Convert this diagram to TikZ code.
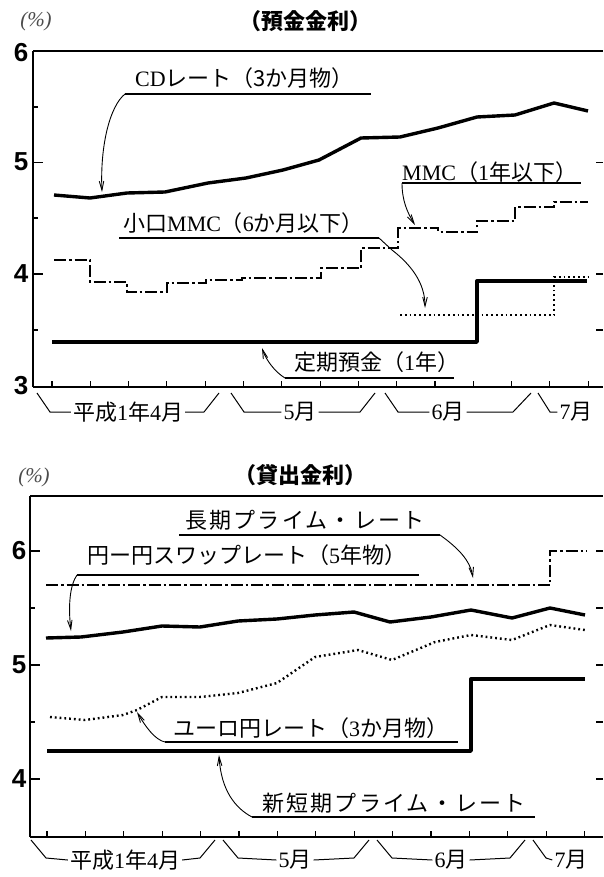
\documentclass[tikz,border=0pt]{standalone}
\usepackage{fontspec}
\setmainfont{Liberation Serif}
\newfontfamily\jp{Noto Sans CJK JP}
\newfontfamily\jpls[LetterSpace=10]{Noto Sans CJK JP}
\newfontfamily\hv{Liberation Sans}
\usetikzlibrary{arrows.meta}
\begin{document}
\begin{tikzpicture}[x=1pt,y=-1pt,
  thickline/.style={line width=3.4pt, line join=round},
  dashdotline/.style={line width=2.6pt, dash pattern=on 12pt off 3pt on 2.5pt off 3pt},
  dotline/.style={line width=2.4pt, dash pattern=on 1.8pt off 3pt},
  leader/.style={line width=0.9pt, -{Straight Barb[length=9pt,width=4.5pt]}},
  uline/.style={line width=1.8pt},
  axisline/.style={line width=1.1pt},
  frameline/.style={line width=2.2pt},
  tickline/.style={line width=1.1pt},
  lbl/.style={font=\jp\fontsize{22}{22}\selectfont, inner sep=0pt, anchor=west},
  lblsp/.style={font=\jpls\fontsize{22}{22}\selectfont, inner sep=0pt, anchor=west},
  ylab/.style={font=\hv\bfseries\fontsize{26}{26}\selectfont, inner sep=0pt},
  mon/.style={font=\jp\fontsize{22}{22}\selectfont, inner sep=2pt},
  ttl/.style={font=\jp\bfseries\fontsize{22}{22}\selectfont, inner sep=0pt},
  pct/.style={font=\rmfamily\itshape\fontsize{21}{21}\selectfont, inner sep=0pt, text=black!70},
  bracket/.style={line width=1pt},
]
\fill[white] (0,0) rectangle (603,877);
\useasboundingbox (0,0) rectangle (603,877);

% ================= TOP CHART =================
\node[pct] (pctA) at (36,21) {(\%)};
\node[ttl] (ttlA) at (305,21) {（預金金利）};
\draw[frameline] (33,51) -- (603,51);
\draw[axisline] (33,51) -- (33,387);
\draw[frameline] (33,387) -- (603,387);
\foreach \yy in {162.5,274} {\draw[tickline] (33,\yy) -- (43,\yy);}
\foreach \yy in {107,218,330} {\draw[tickline] (33,\yy) -- (38,\yy);}
\foreach \yy in {162.5,274,330} {\draw[tickline] (596,\yy) -- (603,\yy);}
\foreach \i in {0,...,14} {\draw[tickline] ({52+38.3*\i},387) -- ({52+38.3*\i},381);}
\node[ylab] (yA6) at (21,53) {6};
\node[ylab] (yA5) at (21,162) {5};
\node[ylab] (yA4) at (21,274) {4};
\node[ylab] (yA3) at (21,386) {3};

% CD rate
\draw[thickline] (54,195) -- (90,198) -- (127,193) -- (165,192) -- (208,183) -- (246,178) -- (283,170) -- (319,160) -- (361,138) -- (400,137) -- (438,128) -- (477,117) -- (515,115) -- (554,103) -- (588,111);
% MMC dash-dot
\draw[dashdotline] (54,260) -- (90,260) -- (90,282) -- (127,282) -- (127,292) -- (167,292) -- (167,283) -- (206,283) -- (206,280) -- (242,280) -- (242,278) -- (321,278) -- (321,268) -- (361,268) -- (361,248) -- (398,248) -- (398,228) -- (438,228) -- (438,232) -- (477,232) -- (477,221) -- (515,221) -- (515,207) -- (554,207) -- (554,202) -- (588,202);
% small MMC dotted
\draw[dotline] (400,315) -- (554,315) -- (554,277) -- (588,277);
% time deposit
\draw[thickline] (52,342) -- (477,342) -- (477,281) -- (587,281);

% labels
\node[lbl] (cdL) at (135,78) {{\rmfamily CD}レート（3か月物）};
\coordinate (cdA) at (125,94);
\draw[uline] (cdA) -- (371,94);
\draw[leader] (cdA) .. controls (110,106) and (100,145) .. (102,192);

\node[lbl] (mmcL) at (402,172) {{\rmfamily MMC}（{\rmfamily 1}年以下）};
\coordinate (mmcA) at (402,183);
\draw[uline] (mmcA) -- (581,183);
\draw[leader] (mmcA) .. controls (402,200) and (407,212) .. (415,225);

\node[lbl] (smmcL) at (123,223) {小口{\rmfamily MMC}（{\rmfamily 6}か月以下）};
\coordinate (smmcA) at (379,238);
\draw[uline] (119,238) -- (smmcA);
\draw[leader] (smmcA) -- (392,250) .. controls (410,264) and (425,282) .. (425,308);

\node[lbl] (tdL) at (294,362) {定期預金（{\rmfamily 1}年）};
\coordinate (tdA) at (285,378);
\draw[uline] (tdA) -- (454,378);
\draw[leader] (tdA) .. controls (275,372) and (266,360) .. (262,348);

% month brackets top
\node[mon] (mA1) at (128,412) {平成{\rmfamily 1}年{\rmfamily 4}月};
\node[mon] (mA2) at (300,412) {{\rmfamily 5}月};
\node[mon] (mA3) at (448,412) {{\rmfamily 6}月};
\node[mon] (mA4) at (576,412) {{\rmfamily 7}月};
\draw[bracket] (37,393) -- (50,412) -- (mA1.west);
\draw[bracket] (mA1.east) -- (204,412) -- (219,393);
\draw[bracket] (231,393) -- (244,412) -- (mA2.west);
\draw[bracket] (mA2.east) -- (360,412) -- (375,393);
\draw[bracket] (385,393) -- (398,412) -- (mA3.west);
\draw[bracket] (mA3.east) -- (513,412) -- (531,393);
\draw[bracket] (538,393) -- (550,412) -- (mA4.west);

% ================= BOTTOM CHART =================
\node[pct] (pctB) at (34,477) {(\%)};
\node[ttl] (ttlB) at (300,475) {（貸出金利）};
\draw[frameline] (30,496) -- (603,496);
\draw[axisline] (30,496) -- (30,837);
\draw[frameline] (30,837) -- (603,837);
\foreach \yy in {551,665,779} {\draw[tickline] (30,\yy) -- (40,\yy);}
\foreach \yy in {608,722} {\draw[tickline] (30,\yy) -- (35,\yy);}
\foreach \yy in {551,608,665,722,779} {\draw[tickline] (596,\yy) -- (603,\yy);}
\foreach \i in {0,...,14} {\draw[tickline] ({47+38.4*\i},837) -- ({47+38.4*\i},831);}
\node[ylab] (yB6) at (19,551) {6};
\node[ylab] (yB5) at (19,665) {5};
\node[ylab] (yB4) at (19,779) {4};

% long-term prime
\draw[dashdotline] (46,585) -- (550,585) -- (550,551) -- (587,551);
% swap rate
\draw[thickline] (46,638) -- (81,637) -- (123,632) -- (162,626) -- (200,627) -- (238,621) -- (277,619) -- (315,615) -- (354,612) -- (390,622) -- (431,617) -- (471,610) -- (512,618) -- (550,608) -- (585,615);
% euro-yen
\draw[dotline] (50,717) -- (85,720) -- (123,715) -- (137,710) -- (162,697) -- (200,697) -- (238,693) -- (277,683) -- (315,657) -- (358,650) -- (392,660) -- (435,642) -- (471,635) -- (512,640) -- (550,625) -- (585,630);
% new short-term prime
\draw[thickline] (47,751) -- (471,751) -- (471,679) -- (585,679);

\node[lblsp] (ltpL) at (185,520) {長期プライム・レート};
\coordinate (ltpA) at (440,535);
\draw[uline] (179,535) -- (ltpA);
\draw[leader] (ltpA) .. controls (458,548) and (470,560) .. (473,578);

\node[lbl] (swL) at (87,555) {円ー円スワップレート（{\rmfamily 5}年物）};
\coordinate (swA) at (77,575);
\draw[uline] (swA) -- (419,575);
\draw[leader] (swA) .. controls (70,585) and (68,605) .. (71,631);

\node[lbl] (euL) at (173,728) {ユーロ円レート（{\rmfamily 3}か月物）};
\coordinate (euA) at (165,742);
\draw[uline] (euA) -- (458,742);
\draw[leader] (euA) .. controls (155,740) and (145,726) .. (137,712);

\node[lblsp] (nspL) at (262,803) {新短期プライム・レート};
\coordinate (nspA) at (252,817);
\draw[uline] (nspA) -- (535,817);
\draw[leader] (nspA) .. controls (235,808) and (221,790) .. (219,755);

% month brackets bottom
\node[mon] (mB1) at (125,860) {平成{\rmfamily 1}年{\rmfamily 4}月};
\node[mon] (mB2) at (295,860) {{\rmfamily 5}月};
\node[mon] (mB3) at (451,860) {{\rmfamily 6}月};
\node[mon] (mB4) at (571,860) {{\rmfamily 7}月};
\draw[bracket] (31,840) -- (46,858) -- (mB1.west);
\draw[bracket] (mB1.east) -- (200,858) -- (215,840);
\draw[bracket] (223,840) -- (238,858) -- (mB2.west);
\draw[bracket] (mB2.east) -- (354,858) -- (369,840);
\draw[bracket] (377,840) -- (392,858) -- (mB3.west);
\draw[bracket] (mB3.east) -- (510,858) -- (525,840);
\draw[bracket] (533,840) -- (546,858) -- (mB4.west);
\end{tikzpicture}
\end{document}
